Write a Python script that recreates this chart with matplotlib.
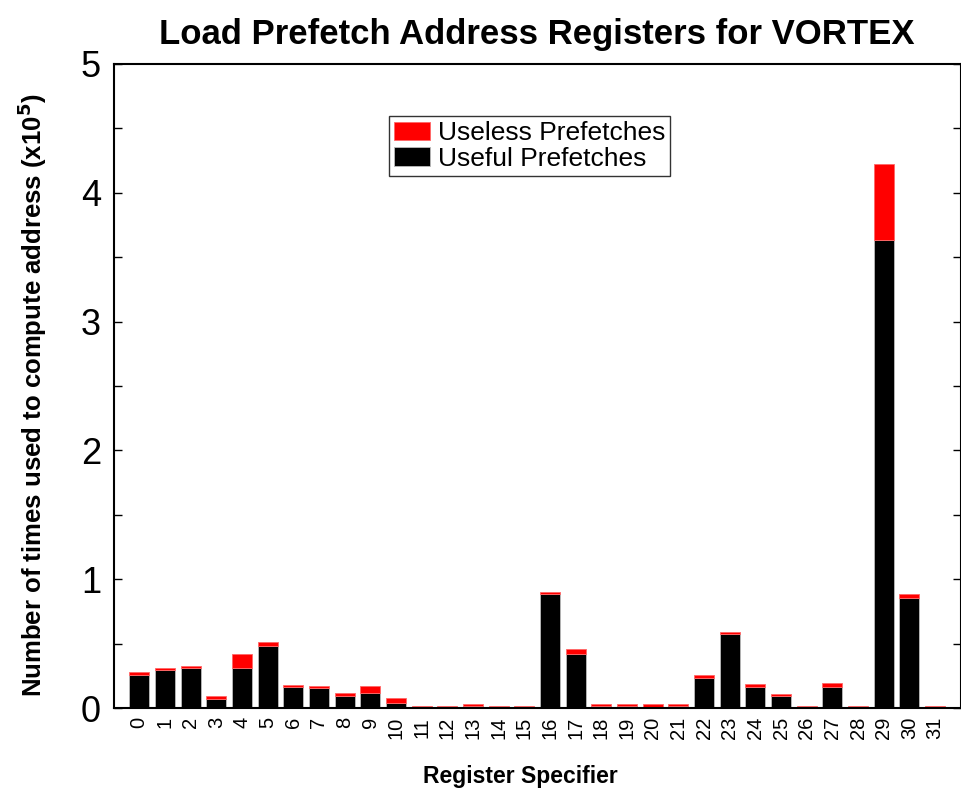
import matplotlib
matplotlib.use("Agg")
import matplotlib.pyplot as plt
import numpy as np

plt.rcParams['font.family'] = ['Liberation Sans', 'DejaVu Sans']

registers = [str(i) for i in range(32)]
useful = [0.256, 0.300, 0.315, 0.070, 0.315, 0.483, 0.165, 0.155, 0.096, 0.119,
          0.039, 0.008, 0.000, 0.018, 0.000, 0.000, 0.886, 0.426, 0.022, 0.022,
          0.015, 0.020, 0.240, 0.576, 0.168, 0.098, 0.000, 0.168, 0.005, 3.630,
          0.858, 0.000]
total = [0.282, 0.313, 0.331, 0.096, 0.421, 0.517, 0.181, 0.173, 0.119, 0.173,
         0.083, 0.022, 0.018, 0.034, 0.018, 0.018, 0.904, 0.462, 0.036, 0.036,
         0.031, 0.036, 0.258, 0.594, 0.189, 0.116, 0.018, 0.194, 0.022, 4.220,
         0.886, 0.018]
useless = [t - u for t, u in zip(total, useful)]

fig = plt.figure(figsize=(9.62, 7.94), dpi=100)
ax = fig.add_axes([0.118, 0.1077, 0.8807, 0.8123])

x = np.arange(len(registers))
ax.bar(x, useful, width=0.78, color='black', edgecolor='#bbbbbb', linewidth=0.6,
       label='Useful Prefetches')
ax.bar(x, useless, bottom=useful, width=0.78, color='#ff0000', edgecolor='#ff6666',
       linewidth=0.6, label='Useless Prefetches')

ax.set_xlim(-1, 32)
ax.set_ylim(0, 5)
ax.set_xticks(x)
ax.set_xticklabels(registers, rotation=90, fontsize=14.5)
ax.set_yticks([0, 1, 2, 3, 4, 5])
ax.set_yticks(np.arange(0.5, 5, 1.0), minor=True)
ax.tick_params(axis='y', which='both', direction='in', right=True, length=6, width=1,
               labelsize=26, pad=9)
ax.tick_params(axis='x', which='both', length=0, pad=6)

for s in ax.spines.values():
    s.set_linewidth(1.5)

ax.set_title('Load Prefetch Address Registers for VORTEX', fontsize=25,
             fontweight='bold', pad=14)
ax.set_xlabel('Register Specifier', fontsize=16.5, fontweight='bold')
ax.xaxis.set_label_coords(0.48, -0.087)
ax.set_ylabel('Number of times used to compute address (x10$^{\\mathbf{5}}$)',
              fontsize=18.5, fontweight='bold')
ax.yaxis.set_label_coords(-0.076, 0.486)

handles, labels = ax.get_legend_handles_labels()
leg = ax.legend(handles[::-1], labels[::-1], loc='upper left',
                bbox_to_anchor=(0.325, 0.9186), fontsize=19, frameon=True,
                fancybox=False, edgecolor='black', handlelength=1.35,
                handleheight=0.7, handletextpad=0.3, borderpad=0.2,
                labelspacing=0.05, borderaxespad=0)
leg.get_frame().set_linewidth(1.0)

fig.savefig('out.png', dpi=100)
